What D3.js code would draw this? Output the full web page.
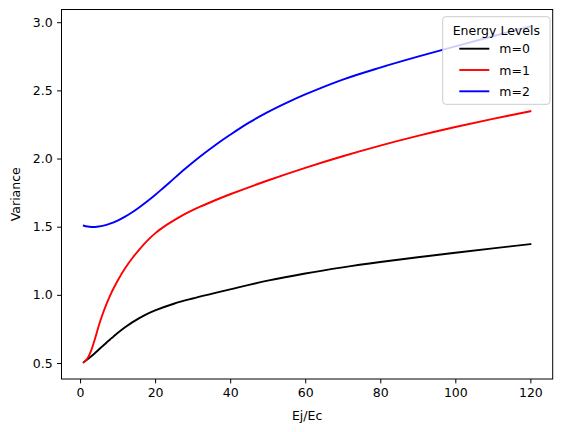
<!DOCTYPE html>
<head>
  <meta charset="utf-8">
  <script src="https://d3js.org/d3.v7.min.js"></script>
  <style>
    body { margin: 0; background: #fff; }
    svg { width: 567px; height: 432px; font-family: "DejaVu Sans", sans-serif; }
  </style>
</head>

<body>
  <svg></svg>

  <script>
    const width = 567;
    const height = 432;

    // Ej/Ec sample points, per curve
    const xM0 = [1, 2, 3, 4, 5, 6, 7, 8, 9, 10, 12, 14, 17, 20, 25, 30, 35, 40, 50, 60, 70, 80, 90, 100, 110, 120];
    const yM0 = [0.506, 0.527, 0.55, 0.574, 0.599, 0.624, 0.649, 0.673, 0.697, 0.72, 0.762, 0.8, 0.848, 0.886, 0.935, 0.973, 1.007, 1.04, 1.104, 1.157, 1.202, 1.241, 1.276, 1.309, 1.341, 1.372];

    const xM1 = [1, 2, 3, 4, 5, 6, 7, 8, 9, 10, 12, 14, 16, 18, 20, 22, 25, 28, 32, 36, 40, 50, 60, 70, 80, 90, 100, 110, 120];
    const yM1 = [0.506, 0.535, 0.595, 0.68, 0.775, 0.858, 0.93, 0.995, 1.052, 1.104, 1.195, 1.272, 1.34, 1.4, 1.451, 1.493, 1.546, 1.594, 1.647, 1.694, 1.738, 1.839, 1.932, 2.017, 2.095, 2.166, 2.231, 2.291, 2.347];

    const xM2 = [1, 2, 3, 4, 5, 6, 8, 10, 12, 14, 16, 18, 20, 22, 24, 28, 32, 36, 40, 45, 50, 55, 60, 70, 80, 90, 100, 110, 120];
    const yM2 = [1.507, 1.501, 1.498, 1.498, 1.501, 1.506, 1.522, 1.545, 1.574, 1.608, 1.647, 1.689, 1.733, 1.78, 1.828, 1.925, 2.015, 2.098, 2.174, 2.263, 2.34, 2.408, 2.47, 2.579, 2.667, 2.747, 2.823, 2.897, 2.97];

    const seriesNames = ['m=0', 'm=1', 'm=2'];
    const seriesColors = ['#000000', '#ff0000', '#0000ff'];
    const xTicks = [0, 20, 40, 60, 80, 100, 120];
    const yTicks = [0.5, 1.0, 1.5, 2.0, 2.5, 3.0];

    const series = [
      { name: seriesNames[0], color: seriesColors[0], pts: xM0.map((x, i) => [x, yM0[i]]) },
      { name: seriesNames[1], color: seriesColors[1], pts: xM1.map((x, i) => [x, yM1[i]]) },
      { name: seriesNames[2], color: seriesColors[2], pts: xM2.map((x, i) => [x, yM2[i]]) },
    ];

    // axes box
    const axL = 61.5, axR = 552.7, axT = 9.5, axB = 379;

    // matplotlib style 5% margins
    const allX = series.flatMap(s => s.pts.map(p => p[0]));
    const allY = series.flatMap(s => s.pts.map(p => p[1]));
    const [x0, x1] = d3.extent(allX);
    const [y0, y1] = d3.extent(allY);
    const padX = (x1 - x0) * 0.05, padY = (y1 - y0) * 0.05;

    const x = d3.scaleLinear().domain([x0 - padX, x1 + padX]).range([axL, axR]);
    const y = d3.scaleLinear().domain([y0 - padY, y1 + padY]).range([axB, axT]);

    const svg = d3.select('svg');

    svg.append('clipPath').attr('id', 'clip')
      .append('rect')
      .attr('x', axL).attr('y', axT)
      .attr('width', axR - axL).attr('height', axB - axT);

    const line = d3.line()
      .x(d => x(d[0]))
      .y(d => y(d[1]))
      .curve(d3.curveCatmullRom.alpha(0.5));

    svg.append('g').attr('clip-path', 'url(#clip)')
      .selectAll('path')
      .data(series).enter().append('path')
      .attr('d', d => line(d.pts))
      .attr('fill', 'none')
      .attr('stroke', d => d.color)
      .attr('stroke-width', 1.9)
      .attr('stroke-linejoin', 'round')
      .attr('stroke-linecap', 'square');

    // axes
    const xAxis = d3.axisBottom(x).tickValues(xTicks).tickSize(4.4).tickPadding(4.5).tickFormat(d3.format('d'));
    const yAxis = d3.axisLeft(y).tickValues(yTicks).tickSize(4.4).tickPadding(4.5).tickFormat(d3.format('.1f'));

    const gx = svg.append('g').attr('transform', `translate(0,${axB})`).call(xAxis);
    const gy = svg.append('g').attr('transform', `translate(${axL},0)`).call(yAxis);

    [gx, gy].forEach(g => {
      g.select('.domain').remove();
      g.selectAll('line').attr('stroke', '#000').attr('stroke-width', 1);
      g.selectAll('text').attr('fill', '#000').style('font-size', '12.5px').style('font-family', '"DejaVu Sans", sans-serif');
    });

    // frame
    svg.append('rect')
      .attr('x', axL).attr('y', axT)
      .attr('width', axR - axL).attr('height', axB - axT)
      .attr('fill', 'none').attr('stroke', '#000').attr('stroke-width', 1);

    // axis labels
    svg.append('text')
      .attr('x', (axL + axR) / 2).attr('y', 419.5)
      .attr('text-anchor', 'middle')
      .style('font-size', '12.5px')
      .text('Ej/Ec');

    svg.append('text')
      .attr('transform', `translate(20,${(axT + axB) / 2}) rotate(-90)`)
      .attr('text-anchor', 'middle')
      .style('font-size', '12.5px')
      .text('Variance');

    /*****************************************************
    ** legend
    ******************************************************/
    const leg = svg.append('g');
    leg.append('rect')
      .attr('x', 442.7).attr('y', 16.7)
      .attr('width', 107.3).attr('height', 87.6)
      .attr('rx', 3).attr('ry', 3)
      .attr('fill', '#fff').attr('fill-opacity', 0.8)
      .attr('stroke', '#cccccc').attr('stroke-width', 1);

    leg.append('text')
      .attr('x', 496.3).attr('y', 34.5)
      .attr('text-anchor', 'middle')
      .style('font-size', '12.5px')
      .text('Energy Levels');

    const rows = leg.selectAll('g.row')
      .data(series).enter().append('g')
      .attr('class', 'row')
      .attr('transform', (d, i) => `translate(0,${48.7 + i * 21.3})`);

    rows.append('line')
      .attr('x1', 459.3).attr('x2', 489.3)
      .attr('stroke', d => d.color).attr('stroke-width', 1.9);

    rows.append('text')
      .attr('x', 499.3).attr('y', 4.5)
      .style('font-size', '12.5px')
      .text(d => d.name);
  </script>
</body>
